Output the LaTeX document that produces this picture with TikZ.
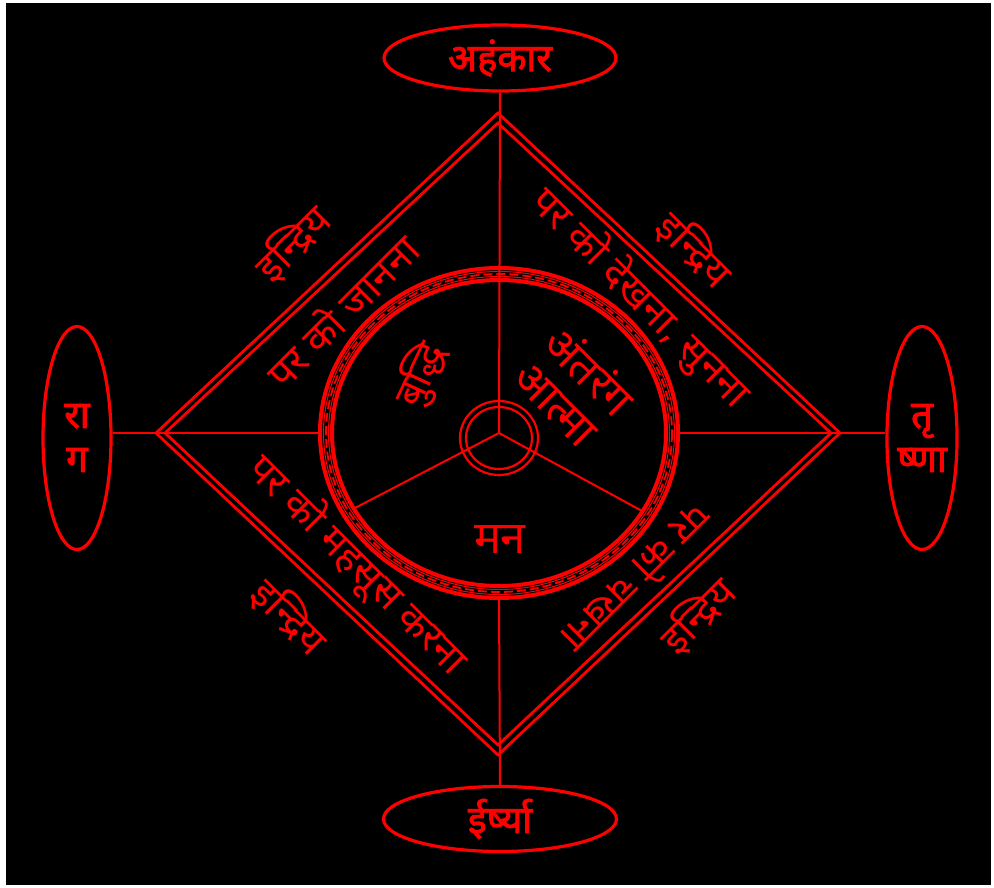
\documentclass[tikz,border=0pt]{standalone}
\usepackage{fontspec}
\newfontfamily\deva[Script=Devanagari]{Noto Sans}
\newfontfamily\devabold[Script=Devanagari, FakeBold=2.5]{Noto Sans}
\usetikzlibrary{shapes.geometric}
\definecolor{lal}{RGB}{255,0,0}

\begin{document}
\begin{tikzpicture}[x=1pt, y=-1pt,
    rline/.style={lal, line width=2.8pt},
    spoke/.style={lal, line width=2pt},
    bubble/.style={draw=lal, line width=3.2pt, ellipse, inner sep=0pt, text=lal, align=center,
      font=\devabold\fontsize{38}{44}\selectfont},
    edgetxt/.style={text=lal, inner sep=0pt, font=\deva\fontsize{40}{44}\selectfont},
    midtxt/.style={text=lal, inner sep=0pt, align=center, font=\deva\fontsize{45}{46}\selectfont}]
  %--- Background
  \fill[white] (0,0) rectangle (994,888);
  \fill[black] (6,3) rectangle (991,885);
  %--- Coordinates
  \coordinate (hub) at (499,433);
  \coordinate (dT) at (498,113);  \coordinate (iT) at (498,123);
  \coordinate (dR) at (840,433);  \coordinate (iR) at (831,433);
  \coordinate (dB) at (498,755);  \coordinate (iB) at (498,745);
  \coordinate (dL) at (156,433);  \coordinate (iL) at (165,433);
  \coordinate (ringL) at (320,433);
  \coordinate (ringR) at (678,433);
  \coordinate (ringB) at (499,598);
  \coordinate (sL) at (355,508);  % spoke at 210 deg
  \coordinate (sR) at (642,511);  % spoke at 330 deg
  %--- Outer bubbles
  \node[bubble, minimum width=232pt, minimum height=66pt] (ahankar) at (500,58) {अहंकार};
  \node[bubble, minimum width=233pt, minimum height=65pt] (irshya) at (500,819) {ईर्ष्या};
  \node[bubble, minimum width=68pt, minimum height=223pt] (raag) at (77,438) {रा\\ग};
  \node[bubble, minimum width=68pt, minimum height=223pt] (trishna) at (922,438) {तृ\\ष्णा};
  %--- Diamond (double line)
  \draw[rline] (dT) -- (dR) -- (dB) -- (dL) -- cycle;
  \draw[rline] (iT) -- (iR) -- (iB) -- (iL) -- cycle;
  %--- Ring
  \draw[lal, line width=4pt] (hub) ellipse (179 and 165);
  \draw[lal, line width=1pt] (hub) ellipse (175.5 and 161.5);
  \draw[lal, line width=1.8pt, dash pattern=on 9pt off 4pt] (hub) ellipse (173 and 159);
  \draw[lal, line width=1pt] (hub) ellipse (170.5 and 156.5);
  \draw[lal, line width=4pt] (hub) ellipse (167 and 153);
  %--- Small centre rings
  \draw[lal, line width=2.2pt] (499,438) ellipse (39 and 37);
  \draw[lal, line width=2.2pt] (499,438) ellipse (33 and 31);
  %--- Connectors
  \draw[spoke] (ahankar.south) -- (hub);
  \draw[spoke] (hub) -- (sL);
  \draw[spoke] (hub) -- (sR);
  \draw[spoke] (ringB) -- (irshya.north);
  \draw[spoke] (raag.east |- hub) -- (ringL);
  \draw[spoke] (ringR) -- (trishna.west |- hub);
  %--- Edge labels
  \node[edgetxt, rotate=45] (indUL) at (293,243) {इन्द्रिय};
  \node[edgetxt, rotate=45] (janna) at (341,310) {पर को जानना};
  \node[edgetxt, rotate=-45] (indUR) at (695,250) {इन्द्रिय};
  \node[edgetxt, rotate=-45] (dekhna) at (640,298) {पर को देखना, सुनना};
  \node[edgetxt, rotate=-45] (mahsus) at (357,565) {पर को महसूस करना};
  \node[edgetxt, rotate=-45] (indLL) at (290,617) {इन्द्रिय};
  \node[edgetxt, rotate=225] (chakhna) at (638,580) {पर को चखना};
  \node[edgetxt, rotate=45] (indLR) at (698,615) {इन्द्रिय};
  %--- Inside the ring
  \node[midtxt, rotate=65, font=\deva\fontsize{40}{44}\selectfont] (buddhi) at (421,375) {बुद्धि};
  \node[midtxt, rotate=-45] (atma) at (574,386) {अंतरंग\\आत्मा};
  \node[midtxt] (man) at (500,540) {मन};
\end{tikzpicture}
\end{document}
